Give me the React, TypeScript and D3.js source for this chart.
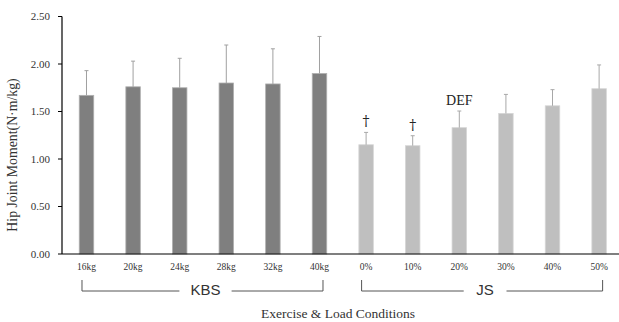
import React from "react";
import * as d3 from "d3";

const categories = ["16kg", "20kg", "24kg", "28kg", "32kg", "40kg", "0%", "10%", "20%", "30%", "40%", "50%"];
const groups = ["KBS", "KBS", "KBS", "KBS", "KBS", "KBS", "JS", "JS", "JS", "JS", "JS", "JS"];
const means = [1.67, 1.76, 1.75, 1.8, 1.79, 1.9, 1.15, 1.14, 1.33, 1.48, 1.56, 1.74];
const sds = [0.26, 0.27, 0.31, 0.4, 0.37, 0.39, 0.13, 0.105, 0.175, 0.2, 0.17, 0.25];
const marks = ["", "", "", "", "", "", "†", "†", "DEF", "", "", ""];
const yTicks = [0, 0.5, 1.0, 1.5, 2.0, 2.5];
const groupNames = ["KBS", "JS"];

const W = 619;
const H = 322;
const left = 62;
const top = 16.5;
const bottom = 254;

export default function App() {
  const y = d3.scaleLinear().domain([0, 2.5]).range([bottom, top]);
  const x = d3
    .scaleBand<string>()
    .domain(categories)
    .range([left, 623.6])
    .paddingInner(0.689)
    .paddingOuter(0.37);
  const bw = x.bandwidth();
  const cx = (c: string) => (x(c) as number) + bw / 2;
  const serif = "'Liberation Serif', 'DejaVu Serif', serif";
  const sans = "'Liberation Sans', Arial, sans-serif";

  return (
    <div style={{ position: "fixed", left: 0, top: 0 }}>
      <svg width={W} height={H} style={{ display: "block", background: "#fff" }}>
        {/* bars */}
        {categories.map((c, i) => {
          const isK = groups[i] === "KBS";
          return (
            <rect
              key={c}
              x={x(c)}
              y={y(means[i])}
              width={bw}
              height={y(0) - y(means[i])}
              fill={isK ? "#7f7f7f" : "#bfbfbf"}
              stroke={isK ? "#b0b0b0" : "#d6d6d6"}
              strokeWidth={0.8}
            />
          );
        })}
        {/* error bars */}
        {categories.map((c, i) => {
          const isK = groups[i] === "KBS";
          const col = isK ? "#a0a0a0" : "#a8a8a8";
          const x0 = cx(c);
          const y1 = y(means[i] + sds[i]);
          return (
            <g key={"e" + c} stroke={col} strokeWidth={1}>
              <line x1={x0} x2={x0} y1={y(means[i])} y2={y1} />
              <line x1={x0 - 2} x2={x0 + 2} y1={y1} y2={y1} />
            </g>
          );
        })}
        {/* significance marks */}
        <g opacity={0.99}>
          {categories.map((c, i) =>
            marks[i] ? (
              <text
                key={"m" + c}
                transform={`translate(${cx(c)},${y(means[i] + sds[i]) - 6})`}
                textAnchor="middle"
                fontFamily={marks[i] === "DEF" ? serif : "'DejaVu Serif', serif"}
                fontSize={marks[i] === "DEF" ? 14 : 14}
                fill="#222"
              >
                {marks[i]}
              </text>
            ) : null
          )}
        </g>
        {/* y axis */}
        <line x1={left} x2={left} y1={top} y2={bottom} stroke="#000" strokeWidth={1.2} />
        {yTicks.map((t) => (
          <g key={"t" + t}>
            <line x1={left - 4} x2={left} y1={y(t)} y2={y(t)} stroke="#000" strokeWidth={1} />
            <text
              x={50}
              y={y(t)}
              dy="0.35em"
              textAnchor="end"
              fontFamily={serif}
              fontSize={11}
              fill="#333"
            >
              {t.toFixed(2)}
            </text>
          </g>
        ))}
        {/* x axis */}
        <line x1={left} x2={W} y1={bottom} y2={bottom} stroke="#000" strokeWidth={1.2} />
        {categories.map((c) => (
          <text
            key={"xl" + c}
            x={cx(c)}
            y={270}
            textAnchor="middle"
            fontFamily={serif}
            fontSize={9.5}
            fill="#333"
          >
            {c}
          </text>
        ))}
        {/* group brackets */}
        {groupNames.map((g) => {
          const cats = categories.filter((_, i) => groups[i] === g);
          const x1 = cx(cats[0]) - 4.5;
          const x2 = cx(cats[cats.length - 1]) + 3.5;
          const mid = (x1 + x2) / 2 + 3;
          const half = g.length * 4.7 + 12;
          const yb = 291;
          return (
            <g key={"g" + g}>
              <path
                d={`M${x1},280 L${x1},${yb} L${mid - half},${yb} M${mid + half},${yb} L${x2},${yb} L${x2},280`}
                fill="none"
                stroke="#555"
                strokeWidth={1}
              />
              <text x={mid} y={295} textAnchor="middle" fontFamily={sans} fontSize={15} fill="#333">
                {g}
              </text>
            </g>
          );
        })}
        {/* axis titles */}
        <text x={338} y={318} textAnchor="middle" fontFamily={serif} fontSize={13.5} fill="#333">
          Exercise &amp; Load Conditions
        </text>
        <text
          transform={`translate(17,155) rotate(-90)`}
          textAnchor="middle"
          fontFamily={serif}
          fontSize={13.8}
          fill="#333"
        >
          Hip Joint Moment(N·m/kg)
        </text>
      </svg>
    </div>
  );
}
